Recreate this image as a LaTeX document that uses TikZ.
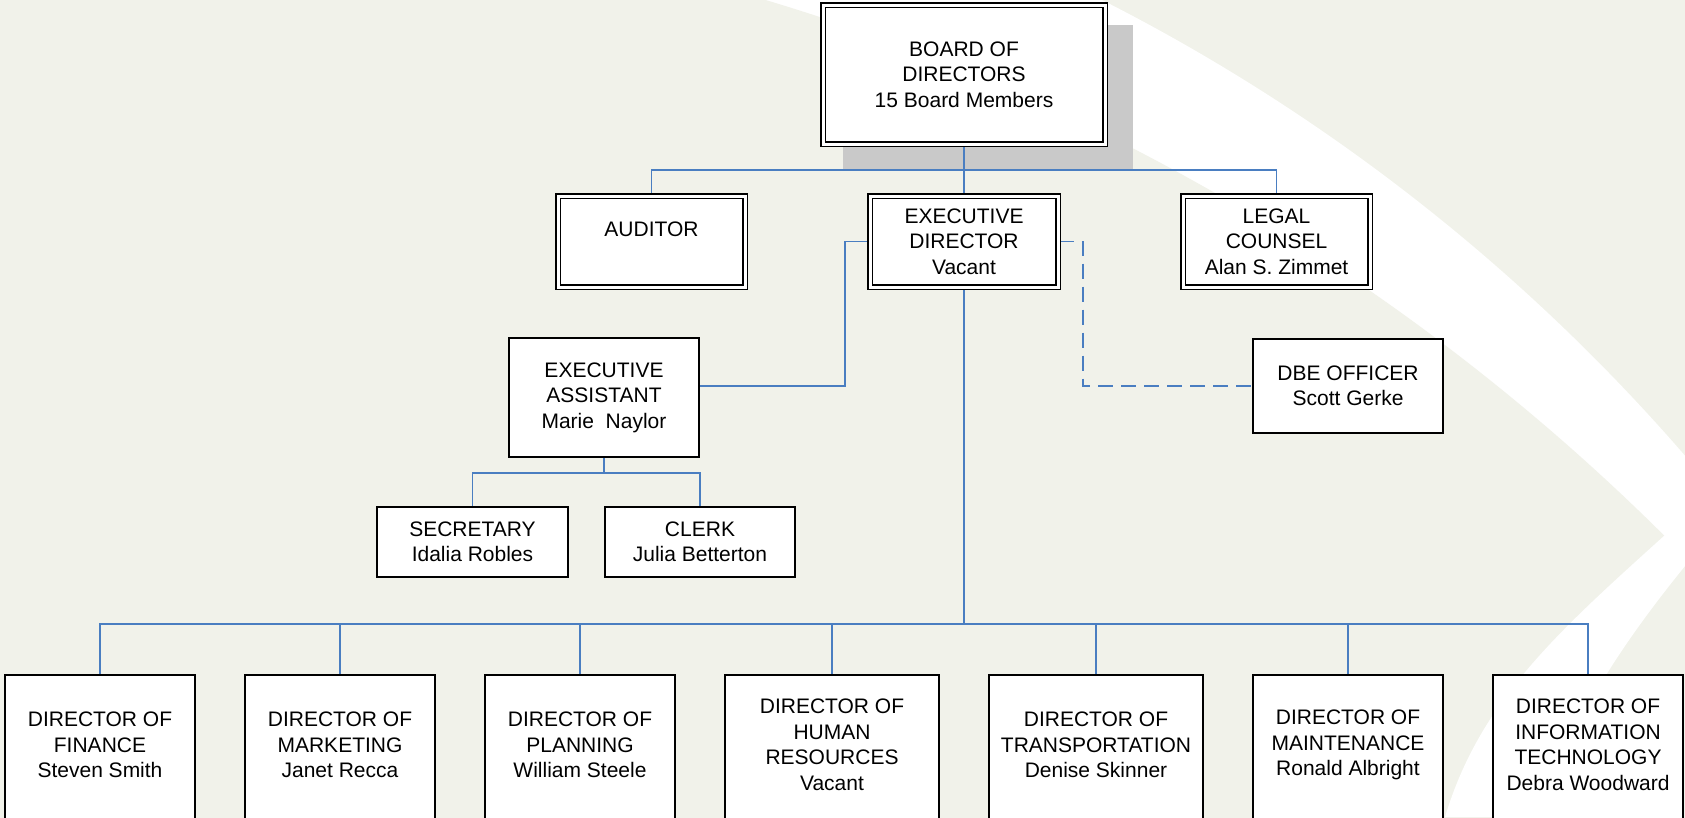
\documentclass[tikz,border=0pt]{standalone}
\usepackage{fontspec}
\setmainfont{Liberation Sans}
\usetikzlibrary{calc}
\definecolor{paper}{RGB}{241,242,234}
\definecolor{wire}{RGB}{74,126,193}
\definecolor{shadowgrey}{RGB}{201,201,201}
\pgfdeclarelayer{back}
\pgfdeclarelayer{wires}
\pgfsetlayers{back,wires,main}

\begin{document}
\begin{tikzpicture}[x=1pt,y=-1pt,
  txt/.style={font=\fontsize{21}{25.5}\selectfont, align=center},
  dblbox/.style={txt, draw=black, fill=white, line width=1.6pt,
                 double=white, double distance=3pt, inner sep=0pt},
  onebox/.style={txt, draw=black, fill=white, line width=2pt, inner sep=0pt},
  dirbox/.style={draw=black, fill=white, line width=2pt, anchor=north,
                 minimum height=170pt, inner sep=0pt},
  dirtext/.style={txt, anchor=center, yshift=-71pt},
  link/.style={draw=wire, line width=1.6pt},
  dashlink/.style={link, dash pattern=on 15pt off 8pt}]

\useasboundingbox (0,0) rectangle (1685,817);
\clip (0,0) rectangle (1685,817);

% backdrop: paper tone with the white sweeping bands
\begin{pgfonlayer}{back}
  \clip (0,0) rectangle (1685,817);
  \fill[paper] (0,0) rectangle (1685,817);
  \fill[white] (237,1709) circle[radius=1915pt];
  \fill[paper] (148,2060) circle[radius=2150pt];
  \fill[white] (1720,500) -- (1665,535)
     .. controls (1560,630) and (1480,700) .. (1445,817)
     -- (1540,817)
     .. controls (1570,720) and (1625,640) .. (1685,566)
     -- (1720,540) -- cycle;
  % drop shadow of the board box
  \fill[shadowgrey] (843,25) rectangle (1133,170);
\end{pgfonlayer}

% top level
\node[dblbox, minimum width=282pt, minimum height=139pt] (board) at (964,74.5)
  {BOARD OF\\DIRECTORS\\15 Board Members};

\node[dblbox, minimum width=187pt, minimum height=91pt] (aud) at (651.5,241.5)
  {AUDITOR\\\phantom{A}};
\node[dblbox, minimum width=188pt, minimum height=91pt] (exec) at (964,241.5)
  {EXECUTIVE\\DIRECTOR\\Vacant};
\node[dblbox, minimum width=187pt, minimum height=91pt] (legal) at (1276.5,241.5)
  {LEGAL\\COUNSEL\\Alan S. Zimmet};

% staff
\node[onebox, minimum width=190pt, minimum height=119pt] (ea) at (604,397.5)
  {EXECUTIVE\\ASSISTANT\\Marie\ \ Naylor};
\node[onebox, minimum width=190pt, minimum height=94pt] (dbe) at (1348,386)
  {DBE OFFICER\\Scott Gerke};
\node[onebox, minimum width=191pt, minimum height=70pt] (sec) at (472.5,542)
  {SECRETARY\\Idalia Robles};
\node[onebox, minimum width=190pt, minimum height=70pt] (clerk) at (700,542)
  {CLERK\\Julia Betterton};

% directors
\node[dirbox, minimum width=190pt,
  label={[dirtext]north:{DIRECTOR OF\\FINANCE\\Steven Smith}}] (fin) at (100,674) {};
\node[dirbox, minimum width=190pt,
  label={[dirtext]north:{DIRECTOR OF\\MARKETING\\Janet Recca}}] (mkt) at (340,674) {};
\node[dirbox, minimum width=190pt,
  label={[dirtext]north:{DIRECTOR OF\\PLANNING\\William Steele}}] (plan) at (580,674) {};
\node[dirbox, minimum width=214pt,
  label={[dirtext]north:{DIRECTOR OF\\HUMAN\\RESOURCES\\Vacant}}] (hr) at (832,674) {};
\node[dirbox, minimum width=214pt,
  label={[dirtext]north:{DIRECTOR OF\\TRANSPORTATION\\Denise Skinner}}] (trans) at (1096,674) {};
\node[dirbox, minimum width=190pt,
  label={[dirtext]north:{DIRECTOR OF\\MAINTENANCE\\Ronald Albright}}] (maint) at (1348,674) {};
\node[dirbox, minimum width=190pt,
  label={[dirtext]north:{DIRECTOR OF\\INFORMATION\\TECHNOLOGY\\Debra Woodward}}] (it) at (1588,674) {};

% reporting lines
\begin{pgfonlayer}{wires}
  \coordinate (topbus) at (964,170);
  \coordinate (eabus) at (604,473);
  \coordinate (mainbus) at (964,624);

  \path[link] (board.south) -- (topbus) -| (aud.north);
  \path[link] (topbus) -| (legal.north);
  \path[link] (topbus) -- (exec.north);

  \path[link] (exec.west) -- ++(-24,0) |- ($(ea.east)+(0,-11.5)$);
  \path[dashlink] (exec.east) -- ++(24,0) |- (dbe.west);

  \path[link] (ea.south) -- (eabus) -| (sec.north);
  \path[link] (eabus) -| (clerk.north);

  \path[link] (exec.south) -- (mainbus);
  \foreach \d in {fin,mkt,plan,hr,trans,maint,it}
    \path[link] (mainbus) -| (\d.north);
\end{pgfonlayer}
\end{tikzpicture}
\end{document}
